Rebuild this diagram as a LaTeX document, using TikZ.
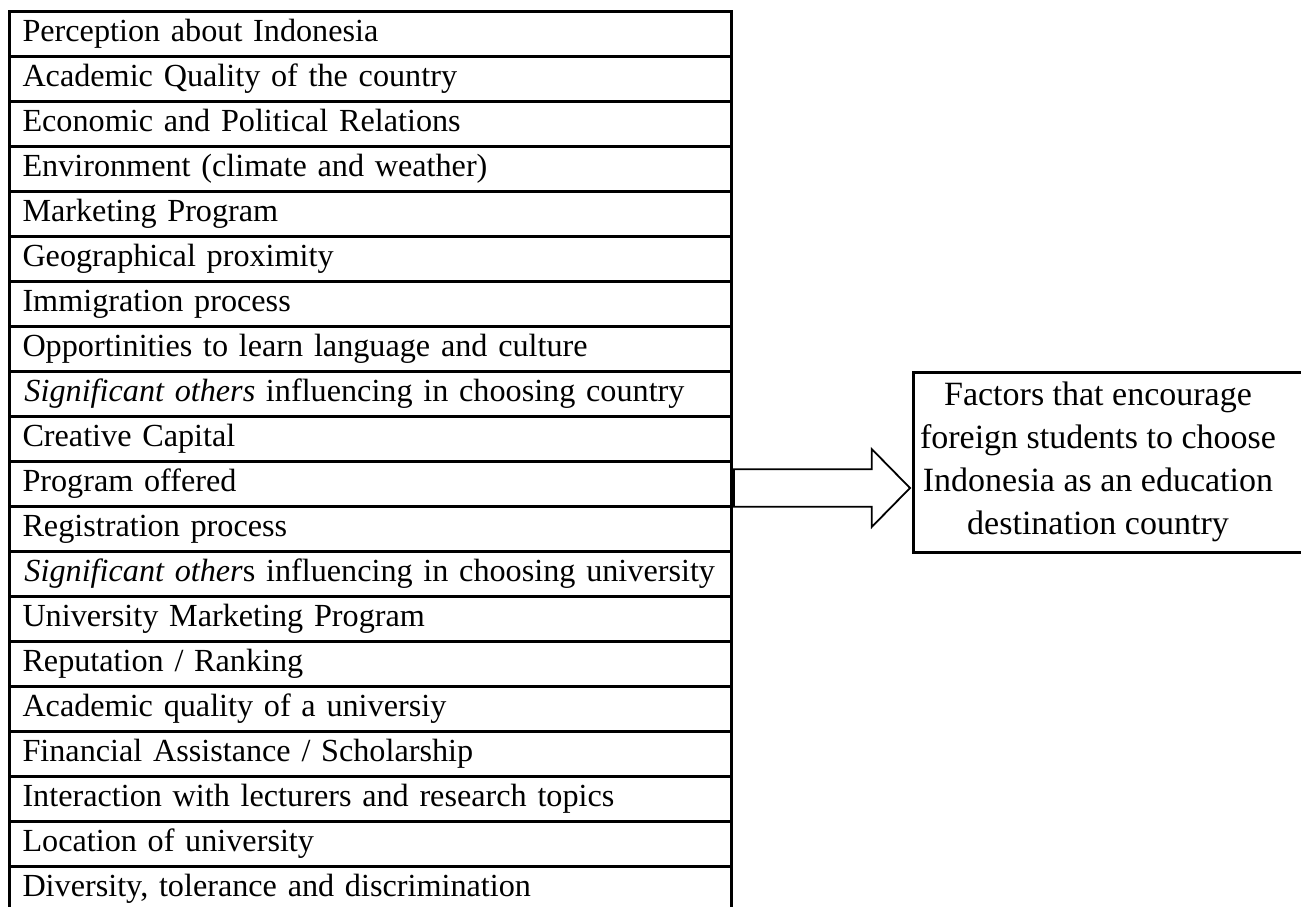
\documentclass[tikz,border=0pt]{standalone}
\usepackage{fontspec}
\setmainfont{Liberation Serif}
\begin{document}
\begin{tikzpicture}[x=0.5pt,y=-0.5pt,
  rowbox/.style={draw, line width=1.5pt, rectangle, anchor=north west,
    inner xsep=6.5pt, inner ysep=0pt, text width=348pt, align=left,
    minimum height=22.5pt, text height=12pt, text depth=5pt,
    font=\fontsize{16.1}{19}\selectfont},
  goalframe/.style={draw, line width=1.5pt, rectangle, anchor=north west, inner sep=0pt},
  goaltext/.style={align=center, inner sep=0pt, font=\fontsize{17}{21.4}\selectfont},
  bigarrow/.style={draw, line width=0.9pt, fill=white, line join=miter}]
\useasboundingbox (0,0) rectangle (1301,906);
\clip (0,0) rectangle (1301,906);
\foreach \t [count=\i] in {
  Perception about Indonesia,
  Academic Quality of the country,
  Economic and Political Relations,
  Environment (climate and weather),
  Marketing Program,
  Geographical proximity,
  Immigration process,
  Opportinities to learn language and culture,
  {\hspace*{1pt}\textit{Significant others} influencing in choosing country},
  Creative Capital,
  Program offered,
  Registration process,
  {\hspace*{1pt}\textit{Significant other}s influencing in choosing university},
  University Marketing Program,
  Reputation / Ranking,
  Academic quality of a universiy,
  Financial Assistance / Scholarship,
  Interaction with lecturers and research topics,
  Location of university,
  {Diversity, tolerance and discrimination}}
{
  \node[rowbox] (r\i) at (8,{10+45.0*(\i-1)}) {\t};
}
\node[goalframe, minimum width=204pt, minimum height=90pt] (goalbox) at (912,371) {};
\node[goaltext] (goal) at (1098,462) {Factors that encourage\\foreign students to choose\\Indonesia as an education\\destination country};
\coordinate (atail) at (734,488);
\coordinate (atip) at (910,488);
\draw[bigarrow] (atail) ++(0,-18.7) -- ++(137.7,0) -- ++(0,-20.3) -- (atip)
  -- ++(-38.3,39) -- ++(0,-20.3) -- ++(-137.7,0) -- cycle;
\end{tikzpicture}
\end{document}
